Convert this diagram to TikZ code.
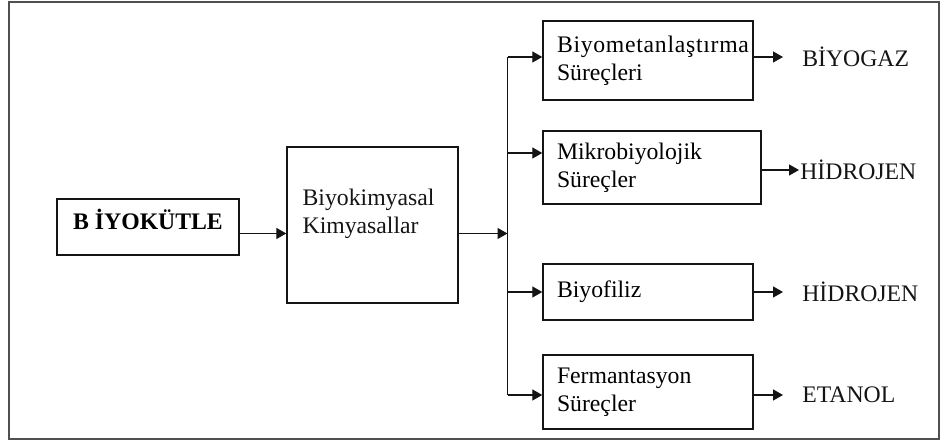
\documentclass[tikz,border=0pt]{standalone}
\usepackage{fontspec}
\setmainfont{Liberation Serif}
\usetikzlibrary{arrows.meta}
\definecolor{body}{RGB}{20,20,20}
\definecolor{frame}{RGB}{80,80,80}

\tikzset{
  procbox/.style={draw=body, line width=0.8pt, align=left, inner xsep=0.28cm, inner ysep=0pt, font=\fontsize{13.5}{16}\selectfont},
  flow/.style={-{Triangle[length=0.2cm,width=0.22cm]}, line width=0.75pt, body},
  product/.style={anchor=west, inner sep=0pt, font=\fontsize{13.5}{16}\selectfont, body}
}

\begin{document}
\begin{tikzpicture}
\useasboundingbox (0,0) rectangle (18.82,8.96);

% ── Frame ──
\draw[frame, line width=1pt] (0.18,0.18) rectangle (18.78,8.92);

% ── Source and first stage ──
\node[procbox, align=center, font=\fontsize{13.5}{16}\selectfont\bfseries, minimum width=3.64cm, minimum height=1.12cm, text depth=0.3cm] (biomass) at (2.96,4.42) {B İYOKÜTLE};
\node[procbox, minimum width=3.42cm, minimum height=3.12cm] (biochem) at (7.45,4.46) {};
\node[anchor=north west, inner sep=0pt, align=left, font=\fontsize{13.5}{16}\selectfont, body] (biochemtext) at ([xshift=0.32cm,yshift=-0.85cm]biochem.north west) {Biyokimyasal\\Kimyasallar};

% ── Process boxes ──
\node[procbox, text width=3.64cm, minimum height=1.58cm] (biomet) at (12.96,7.75) {{\addfontfeature{LetterSpace=3}Biyometanlaştırma}\\Süreçleri};
\node[procbox, text width=3.8cm, minimum height=1.46cm] (mikro) at (13.04,5.61) {Mikrobiyolojik\\Süreçler};
\node[procbox, text width=3.64cm, minimum height=1.12cm] (biofil) at (12.96,3.12) {Biyofiliz};
\node[procbox, text width=3.64cm, minimum height=1.48cm] (ferm) at (12.96,1.12) {Fermantasyon\\Süreçler};

% ── Bus junctions ──
\coordinate (jmain) at (10.15,4.29);
\coordinate (j1) at (10.15,7.82);
\coordinate (j2) at (10.15,5.90);
\coordinate (j3) at (10.15,3.12);
\coordinate (j4) at (10.15,1.06);

% ── Products ──
\node[product] (gas) at (16.04,7.82) {BİYOGAZ};
\node[product] (hydroA) at (16.00,5.56) {HİDROJEN};
\node[product] (hydroB) at (16.04,3.12) {HİDROJEN};
\node[product] (ethanol) at (16.04,1.06) {ETANOL};

% ── Connectors ──
\draw[flow] (jmain -| biomass.east) -- (jmain -| biochem.west);
\draw[flow] (jmain -| biochem.east) -- (jmain);
\draw[body, line width=0.75pt] (j1) -- (j4);
\foreach \j/\proc in {j1/biomet, j2/mikro, j3/biofil, j4/ferm}
  \draw[flow] (\j) -- (\j -| \proc.west);
\foreach \out/\proc/\gap in {gas/biomet/0.38, hydroA/mikro/0.02, hydroB/biofil/0.38, ethanol/ferm/0.38}
  \draw[flow] (\out.west -| \proc.east) -- ([xshift=-\gap cm]\out.west);

\end{tikzpicture}
\end{document}
